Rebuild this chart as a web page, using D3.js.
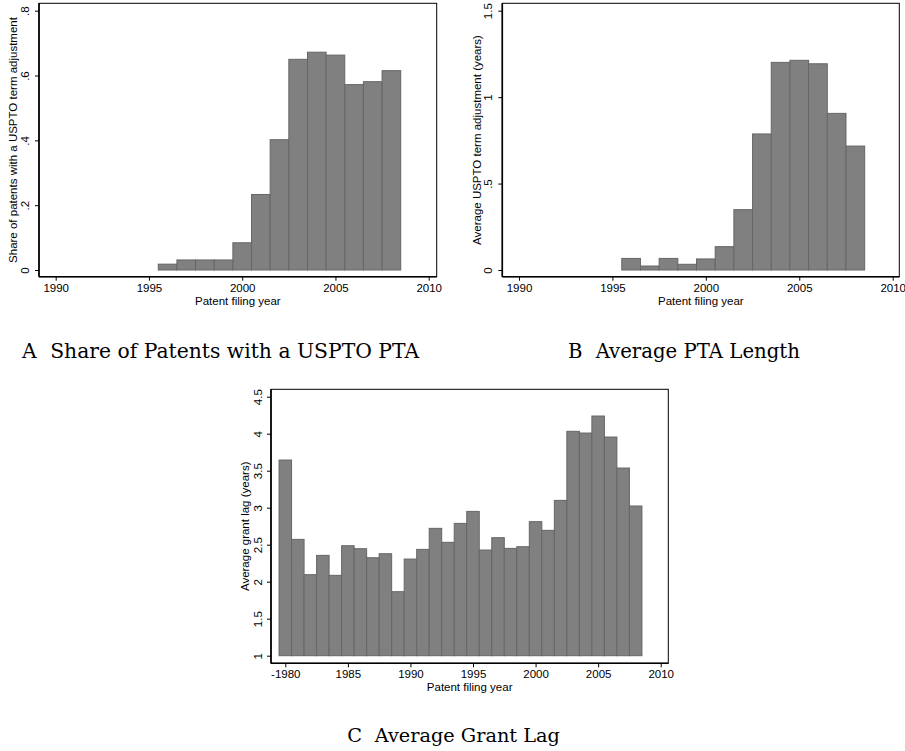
<!DOCTYPE html>
<html>
<head>
<meta charset="utf-8">
<script src="https://cdn.jsdelivr.net/npm/d3@7"></script>
<style>
  body { margin: 0; background: #fff; }
  text { font-family: "Liberation Sans", Arial, sans-serif; fill: #000; }
  .caption { font-family: "DejaVu Serif", "Liberation Serif", serif; }
</style>
</head>
<body>
<div id="chart"></div>
<script>
// years on the x axis
var yearsAB = [1996, 1997, 1998, 1999, 2000, 2001, 2002, 2003, 2004, 2005, 2006, 2007, 2008];
var yearsC = [1980, 1981, 1982, 1983, 1984, 1985, 1986, 1987, 1988, 1989, 1990, 1991, 1992, 1993, 1994,
              1995, 1996, 1997, 1998, 1999, 2000, 2001, 2002, 2003, 2004, 2005, 2006, 2007, 2008];

// series values
var sharePTA = [0.018, 0.031, 0.031, 0.031, 0.084, 0.233, 0.402, 0.650, 0.672, 0.663, 0.572, 0.581, 0.615];
var avgPTA = [0.067, 0.023, 0.067, 0.033, 0.064, 0.135, 0.349, 0.787, 1.201, 1.213, 1.193, 0.906, 0.717];
var grantLag = [3.644, 2.572, 2.095, 2.356, 2.086, 2.486, 2.446, 2.324, 2.378, 1.865, 2.306, 2.437, 2.721, 2.532, 2.788,
                2.950, 2.428, 2.595, 2.450, 2.473, 2.811, 2.694, 3.099, 4.032, 4.009, 4.239, 3.955, 3.536, 3.023];

// tick values and labels
var xTicksAB = [1990, 1995, 2000, 2005, 2010];
var xLabelsAB = ["1990", "1995", "2000", "2005", "2010"];
var xTicksC = [1980, 1985, 1990, 1995, 2000, 2005, 2010];
var xLabelsC = ["-1980", "1985", "1990", "1995", "2000", "2005", "2010"];
var yTicksA = [0, 0.2, 0.4, 0.6, 0.8];
var yLabelsA = ["0", ".2", ".4", ".6", ".8"];
var yTicksB = [0, 0.5, 1, 1.5];
var yLabelsB = ["0", ".5", "1", "1.5"];
var yTicksC = [1, 1.5, 2, 2.5, 3, 3.5, 4, 4.5];
var yLabelsC = ["1", "1.5", "2", "2.5", "3", "3.5", "4", "4.5"];

var svg = d3.select("#chart").append("svg")
  .attr("width", 905)
  .attr("height", 751);

function histPanel(p) {
  var x = d3.scaleLinear().domain(p.xDomain).range(p.xRange);
  var y = d3.scaleLinear().domain(p.yDomain).range(p.yRange);
  var g = svg.append("g");
  var base = p.yDomain[0];

  g.selectAll("rect.bar")
    .data(p.years)
    .enter().append("rect")
    .attr("class", "bar")
    .attr("x", (d) => x(d - 0.5))
    .attr("width", (d) => x(d + 0.5) - x(d - 0.5))
    .attr("y", (d, i) => y(p.values[i]))
    .attr("height", (d, i) => y(base) - y(p.values[i]))
    .style("fill", "#808080")
    .style("stroke", "#666")
    .style("stroke-width", "1px");

  // plot frame
  g.append("rect")
    .attr("x", p.frame.left)
    .attr("y", p.frame.top)
    .attr("width", p.frame.right - p.frame.left)
    .attr("height", p.frame.bottom - p.frame.top)
    .style("fill", "none")
    .style("stroke", "#000")
    .style("stroke-width", "1px");

  var xAxis = g.append("g")
    .attr("transform", "translate(0," + p.frame.bottom + ")")
    .call(d3.axisBottom(x).tickValues(p.xTicks)
      .tickFormat((d, i) => p.xLabels[i]).tickSize(4).tickSizeOuter(0).tickPadding(3));
  xAxis.select(".domain").remove();
  xAxis.selectAll("text").style("font-size", "11.5px");
  xAxis.append("line")
    .attr("x1", p.frame.left).attr("x2", p.frame.right)
    .attr("stroke", "#000").attr("stroke-width", 1.6);

  var yAxis = g.append("g")
    .attr("transform", "translate(" + p.frame.left + ",0)")
    .call(d3.axisLeft(y).tickValues(p.yTicks)
      .tickFormat((d, i) => p.yLabels[i]).tickSize(4).tickSizeOuter(0));
  yAxis.select(".domain").remove();
  yAxis.selectAll("text")
    .attr("x", 0)
    .attr("dy", null)
    .attr("text-anchor", "middle")
    .attr("dominant-baseline", "central")
    .attr("transform", "translate(" + p.yLabelOff + ",0) rotate(-90)")
    .style("font-size", "11.5px");
  yAxis.append("line")
    .attr("y1", p.frame.top).attr("y2", p.frame.bottom)
    .attr("stroke", "#000").attr("stroke-width", 1.6);

  g.append("text")
    .attr("transform", "translate(" + ((p.frame.left + p.frame.right) / 2) + "," + (p.frame.bottom + 28) + ")")
    .attr("text-anchor", "middle")
    .style("font-size", "11.5px")
    .text("Patent filing year");

  g.append("text")
    .attr("transform", "translate(" + p.yTitleX + "," + ((p.frame.top + p.frame.bottom) / 2) + ") rotate(-90)")
    .attr("text-anchor", "middle")
    .attr("dominant-baseline", "central")
    .style("font-size", "11.5px")
    .text(p.yTitle);

  // caption under the panel, sized to span the same width as in the figure
  var cap = svg.append("text")
    .attr("class", "caption")
    .attr("x", p.captionX)
    .attr("y", p.captionY)
    .attr("text-anchor", "middle")
    .style("font-size", "20px");
  cap.append("tspan").text(p.letter);
  var rest = cap.append("tspan").attr("dx", 7).text(" " + p.caption);
  var w = cap.node().getBBox().width;
  var fs = 20 * p.captionW / w;
  cap.style("font-size", fs + "px");
  rest.attr("dx", 7 * fs / 20);
}

histPanel({
  years: yearsAB, values: sharePTA,
  xDomain: [1990, 2010], xRange: [55.7, 428.7],
  yDomain: [0, 0.8], yRange: [270, 10.7],
  frame: {left: 39, right: 436.7, top: 3.3, bottom: 276.7},
  xTicks: xTicksAB, xLabels: xLabelsAB, yTicks: yTicksA, yLabels: yLabelsA,
  yLabelOff: -14, yTitleX: 12.7,
  yTitle: "Share of patents with a USPTO term adjustment",
  letter: "A", caption: "Share of Patents with a USPTO PTA",
  captionX: 220.5, captionY: 358, captionW: 399
});

histPanel({
  years: yearsAB, values: avgPTA,
  xDomain: [1990, 2010], xRange: [519, 892.7],
  yDomain: [0, 1.5], yRange: [270, 10.7],
  frame: {left: 502.3, right: 899.3, top: 3.3, bottom: 276.7},
  xTicks: xTicksAB, xLabels: xLabelsAB, yTicks: yTicksB, yLabels: yLabelsB,
  yLabelOff: -14, yTitleX: 476.7,
  yTitle: "Average USPTO term adjustment (years)",
  letter: "B", caption: "Average PTA Length",
  captionX: 684, captionY: 358, captionW: 232
});

histPanel({
  years: yearsC, values: grantLag,
  xDomain: [1980, 2010], xRange: [285.3, 660.7],
  yDomain: [1, 4.5], yRange: [655.7, 396.7],
  frame: {left: 271, right: 668.3, top: 389.3, bottom: 663.3},
  xTicks: xTicksC, xLabels: xLabelsC, yTicks: yTicksC, yLabels: yLabelsC,
  yLabelOff: -13, yTitleX: 245,
  yTitle: "Average grant lag (years)",
  letter: "C", caption: "Average Grant Lag",
  captionX: 453.5, captionY: 742, captionW: 213
});
</script>
</body>
</html>
